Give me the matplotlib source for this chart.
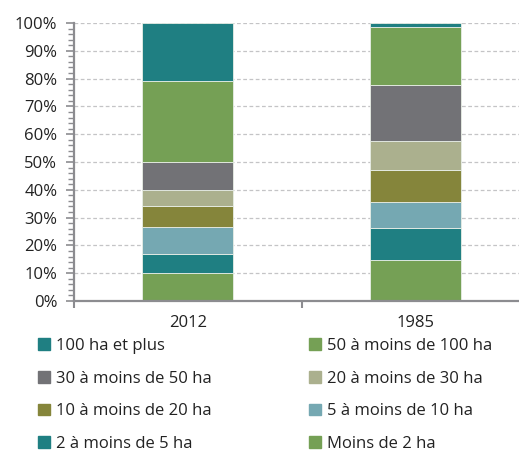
import numpy as np
import matplotlib.pyplot as plt
from matplotlib.patches import Patch
from matplotlib.ticker import MultipleLocator, FixedLocator, PercentFormatter

plt.rcParams['font.family'] = ['Open Sans', 'DejaVu Sans']

# Données
annees = ['2012', '1985']
classes = ['Moins de 2 ha', '2 à moins de 5 ha', '5 à moins de 10 ha',
           '10 à moins de 20 ha', '20 à moins de 30 ha', '30 à moins de 50 ha',
           '50 à moins de 100 ha', '100 ha et plus']
parts_2012 = [10.0, 6.9, 9.6, 7.8, 5.5, 10.3, 29.2, 20.7]
parts_1985 = [14.6, 11.8, 9.1, 11.7, 10.4, 20.1, 20.9, 1.4]
couleurs = ['#75a055', '#1f7f82', '#75a8b2', '#85853b', '#abb08e', '#727276',
            '#75a055', '#1f7f82']

valeurs = np.array([parts_2012, parts_1985]).T
x = np.arange(len(annees))

fig = plt.figure(figsize=(5.19, 4.51), dpi=100)
ax = fig.add_axes([74/519, 1 - 301/451, 1 - 74/519, (301 - 23)/451])

bas = np.zeros(len(annees))
for i, classe in enumerate(classes):
    ax.bar(x, valeurs[i], 0.4, bottom=bas, color=couleurs[i],
           edgecolor='#e8eee6', linewidth=0.6, zorder=2)
    bas += valeurs[i]

ax.set_xlim(-0.5, 1.456)
ax.set_ylim(0, 100)
ax.yaxis.set_major_locator(MultipleLocator(10))
ax.yaxis.set_minor_locator(MultipleLocator(2))
ax.yaxis.set_major_formatter(PercentFormatter(decimals=0))
ax.grid(axis='y', which='major', linestyle=(0, (3, 2)), color='#c4c4c6',
        linewidth=0.9, zorder=0)

ax.set_xticks(x)
ax.set_xticklabels(annees)
ax.xaxis.set_minor_locator(FixedLocator([-0.5, 0.5]))
ax.tick_params(axis='x', which='major', length=0, pad=10, labelsize=12,
               labelcolor='#222222')
ax.tick_params(axis='x', which='minor', length=5, width=1.5, color='#8c8c90')
ax.tick_params(axis='y', which='major', length=6, width=1.2, color='#8c8c90',
               labelsize=12, labelcolor='#222222', pad=6)
ax.tick_params(axis='y', which='minor', length=4, width=1.0, color='#8c8c90')

for s in ['top', 'right']:
    ax.spines[s].set_visible(False)
for s in ['left', 'bottom']:
    ax.spines[s].set_color('#8c8c90')
    ax.spines[s].set_linewidth(1.6)

# Légende sur deux colonnes (ordre de lecture par ligne)
ordre_g = [7, 5, 3, 1]
ordre_d = [6, 4, 2, 0]
for ordre, xpos in [(ordre_g, 38/519), (ordre_d, 309/519)]:
    poignees = [Patch(color=couleurs[i], label=classes[i]) for i in ordre]
    fig.legend(handles=poignees, loc='upper left',
               bbox_to_anchor=(xpos, 1 - 338/451), frameon=False,
               fontsize=12, handlelength=0.7, handleheight=0.7,
               handletextpad=0.4, labelspacing=1.0, borderaxespad=0,
               borderpad=0, labelcolor='#222222')

fig.savefig('out.png', dpi=100)
